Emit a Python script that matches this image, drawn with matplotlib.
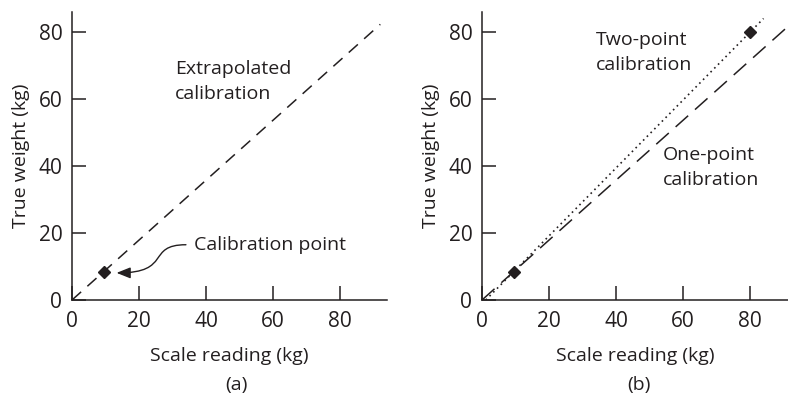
import numpy as np
import matplotlib.pyplot as plt
from matplotlib.path import Path
from matplotlib.patches import FancyArrowPatch

plt.rcParams['font.family'] = ['Open Sans', 'DejaVu Sans']
ink = '#231f20'

# calibration data (kg)
cal_point = (9.5, 8.5)          # single calibration point
high_point = (80.0, 80.0)       # second calibration point
ticks = [0, 20, 40, 60, 80]
one_point_end = 92.0            # extent of the extrapolated line (a)
one_point_end_b = 97.0          # extent of the one-point line (b)
two_point_end = 84.0

slope1 = cal_point[1] / cal_point[0]
slope2 = (high_point[1] - cal_point[1]) / (high_point[0] - cal_point[0])
icpt2 = cal_point[1] - slope2 * cal_point[0]

fig = plt.figure(figsize=(7.88, 3.99), dpi=100)
axa = fig.add_axes([72/788, 99/399, 315/788, 288/399])
axb = fig.add_axes([482/788, 99/399, 306/788, 288/399])


def style(ax, xmax):
    ax.set_xlim(0, xmax)
    ax.set_ylim(0, 86)
    for s in ['top', 'right']:
        ax.spines[s].set_visible(False)
    for s in ['left', 'bottom']:
        ax.spines[s].set_color(ink)
        ax.spines[s].set_linewidth(1.1)
    ax.set_xticks(ticks)
    ax.set_yticks(ticks)
    ax.tick_params(direction='in', length=10, width=1.1, color=ink,
                   labelsize=15, labelcolor=ink)
    ax.tick_params(axis='x', pad=8)
    ax.tick_params(axis='y', pad=7)
    ax.set_xlabel('Scale reading (kg)', fontsize=14, color=ink, labelpad=11)
    ax.set_ylabel('True weight (kg)', fontsize=14, color=ink, labelpad=6)


# (a) one calibration point, extrapolated
style(axa, 94)
xa = np.array([0, one_point_end])
axa.plot(xa, slope1 * xa, color=ink, lw=1.1, dashes=(8, 5.5))
axa.plot(*cal_point, marker='D', ms=6, color=ink)
axa.text(30.7, 65.3, 'Extrapolated\ncalibration', fontsize=14, color=ink,
         ha='left', va='center', linespacing=1.5)
axa.text(36.3, 16.3, 'Calibration point', fontsize=14, color=ink,
         ha='left', va='center')
arc = Path([(34.0, 16.5), (22.0, 16.5), (30.0, 8.1), (13.3, 8.1)],
           [Path.MOVETO, Path.CURVE4, Path.CURVE4, Path.CURVE4])
axa.add_patch(FancyArrowPatch(path=arc, arrowstyle='-|>,head_length=0.7,head_width=0.28',
                              mutation_scale=12, color=ink, lw=1.0))
fig.text(236/788, 1 - 385/399, '(a)', fontsize=14, color=ink,
         ha='center', va='center')

# (b) one-point versus two-point calibration
style(axb, 91.3)
xb = np.array([0, one_point_end_b])
axb.plot(xb, slope1 * xb, color=ink, lw=1.1, dashes=(11, 6))
x2 = np.array([-icpt2 / slope2, two_point_end])
axb.plot(x2, slope2 * x2 + icpt2, color=ink, lw=1.2, dashes=(1, 2.2))
axb.plot([cal_point[0], high_point[0]], [cal_point[1], high_point[1]],
         ls='none', marker='D', ms=6, color=ink)
axb.text(34, 74, 'Two-point\ncalibration', fontsize=14, color=ink,
         ha='left', va='center', linespacing=1.5)
axb.text(54, 39.5, 'One-point\ncalibration', fontsize=14, color=ink,
         ha='left', va='center', linespacing=1.5)
fig.text(639/788, 1 - 385/399, '(b)', fontsize=14, color=ink,
         ha='center', va='center')

fig.savefig('out.png', dpi=100)
